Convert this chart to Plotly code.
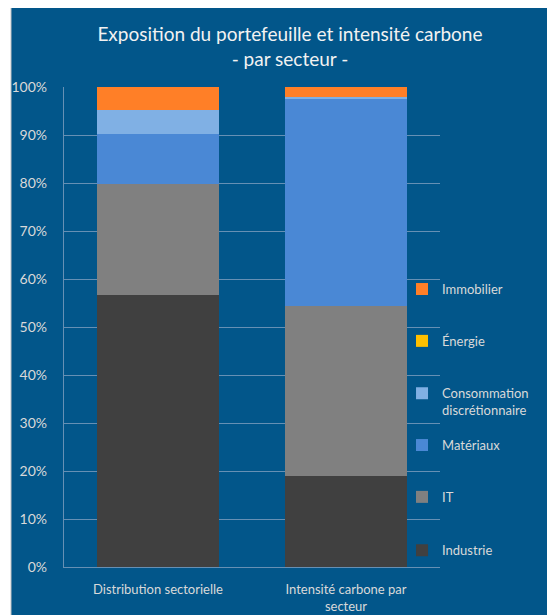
import plotly.graph_objects as go

categories = ["Distribution sectorielle", "Intensité carbone par<br>secteur"]
sectors = ["Industrie", "IT", "Matériaux", "Consommation<br>discrétionnaire", "Énergie", "Immobilier"]
industrie = [56.7, 19.0]
it_vals = [23.0, 35.4]
materiaux = [10.5, 43.2]
consommation = [5.0, 0.4]
energie = [0.0, 0.0]
immobilier = [4.8, 2.0]
values = [industrie, it_vals, materiaux, consommation, energie, immobilier]
colors = ["#404040", "#808080", "#4A88D5", "#80B0E4", "#FFC000", "#FF7F27"]
y_ticks = [0, 10, 20, 30, 40, 50, 60, 70, 80, 90, 100]
y_ticktext = [f"{v}%" for v in y_ticks]

BG = "#02568A"
GRID = "#6690B4"
TXT = "#D9D9D9"
FONT = "Lato"

# legend positions (paper coordinates) for each sector
legend_y = [0.035, 0.146, 0.254, 0.344, 0.471, 0.579]
legend_valign = ["middle", "middle", "middle", "top", "middle", "middle"]

fig = go.Figure()
for i, (name, vals, col) in enumerate(zip(sectors, values, colors)):
    lg = "legend" if i == 0 else f"legend{i+1}"
    fig.add_trace(go.Bar(
        x=categories, y=vals, name=name,
        marker=dict(color=col, line=dict(width=0)),
        legend=lg, showlegend=True,
    ))

layout_legends = {}
for i in range(6):
    key = "legend" if i == 0 else f"legend{i+1}"
    layout_legends[key] = dict(
        x=0.899, xanchor="left",
        y=legend_y[i], yanchor="middle",
        bgcolor="rgba(0,0,0,0)",
        font=dict(family=FONT, size=13, color=TXT),
        itemwidth=30, valign=legend_valign[i],
        visible=True,
    )

fig.update_layout(
    width=555, height=615,
    paper_bgcolor="white",
    plot_bgcolor="rgba(0,0,0,0)",
    barmode="stack",
    bargap=0.356,
    showlegend=True,
    margin=dict(l=56, r=123, t=79, b=56, autoexpand=False),
    font=dict(family=FONT, color=TXT),
    title=dict(
        text="Exposition du portefeuille et intensité carbone<br>- par secteur -",
        x=0.508, xanchor="center", xref="container",
        y=0.9456, yanchor="top", yref="container",
        font=dict(family=FONT, size=19, color="#F2F2F2"),
    ),
    shapes=[dict(
        type="rect", xref="paper", yref="paper",
        x0=-0.1410, x1=1.4, y0=-0.2, y1=1.16875,
        fillcolor=BG, line=dict(width=1, color="#C8C8C8"), layer="below",
    )],
    **layout_legends,
)

fig.update_yaxes(
    range=[0, 100], tickvals=y_ticks, ticktext=y_ticktext,
    showgrid=True, gridcolor=GRID, gridwidth=1.3,
    showline=True, linecolor=GRID, linewidth=1.3,
    zeroline=False, ticks="", automargin=False,
    tickfont=dict(family=FONT, size=14, color=TXT),
    ticklabelstandoff=13,
)
fig.update_xaxes(
    showline=True, linecolor=GRID, linewidth=1.3,
    showgrid=False, ticks="", automargin=False,
    tickfont=dict(family=FONT, size=13, color=TXT),
    ticklabelstandoff=10,
)

fig.write_html("out.html")
